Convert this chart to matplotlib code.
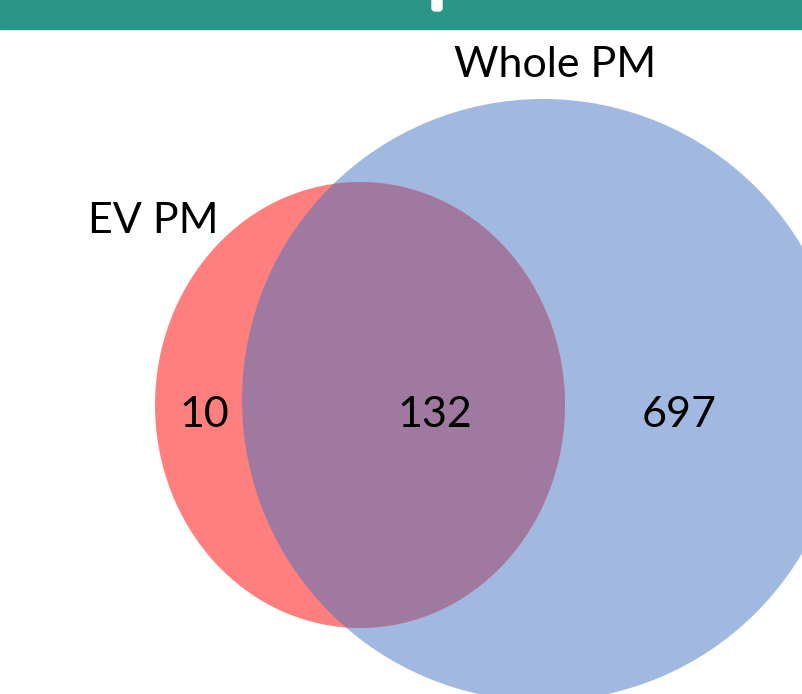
import matplotlib
matplotlib.use("Agg")
import matplotlib.pyplot as plt
from matplotlib.patches import Ellipse, Circle, Rectangle, FancyBboxPatch

# Venn data
set_names = ["EV PM", "Whole PM"]
region_counts = [10, 132, 697]  # only EV, shared, only Whole

# Colours
ev_color = "#FF7F7F"
whole_color = "#A1B8E0"
shared_color = "#A079A0"
band_color = "#2A9687"

plt.rcParams["font.family"] = ["Lato", "DejaVu Sans"]

fig = plt.figure(figsize=(8.03, 6.94), dpi=100)
ax = fig.add_axes([0, 0, 1, 1])
ax.set_xlim(0, 803)
ax.set_ylim(694, 0)
ax.axis("off")

# header band
ax.add_patch(Rectangle((0, 0), 803, 29, color=band_color, zorder=1))
ax.add_patch(FancyBboxPatch((432, -5), 10, 16, boxstyle="round,pad=0,rounding_size=3",
                            color="white", zorder=2))

# set shapes
whole = Circle((543, 400), 301, color=whole_color, zorder=2, lw=0)
ev = Ellipse((360, 405), 410, 446, color=ev_color, zorder=3, lw=0)
ax.add_patch(whole)
ax.add_patch(ev)
shared = Ellipse((360, 405), 410, 446, color=shared_color, zorder=4, lw=0)
ax.add_patch(shared)
shared.set_clip_path(whole)

# labels
fs = 31
ax.text(555, 77, set_names[1], fontsize=fs, ha="center", va="baseline", zorder=5)
ax.text(153, 233, set_names[0], fontsize=fs, ha="center", va="baseline", zorder=5)
for x, v in zip([204, 435, 679], region_counts):
    ax.text(x, 427, str(v), fontsize=fs, ha="center", va="baseline", zorder=5)

fig.savefig("out.png", dpi=100)
